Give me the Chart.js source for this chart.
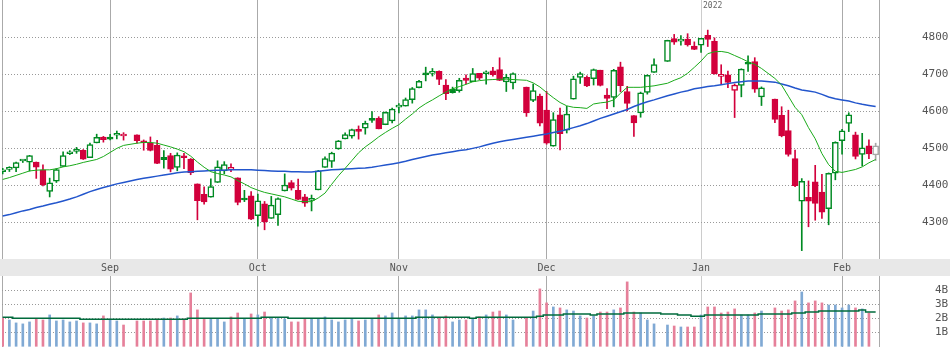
<!DOCTYPE html>
<html>
<head>
<meta charset="utf-8">
<title>S&amp;P 500 daily</title>
<script src="https://cdn.jsdelivr.net/npm/chart.js@4/dist/chart.umd.min.js"></script>
<style>
  html, body { margin: 0; padding: 0; background: #fff; }
  #wrap { position: relative; width: 950px; height: 347px; overflow: hidden; }
  #priceChart { position: absolute; left: 0; top: 0; }
  #volChart { position: absolute; left: 0; top: 276px; }
</style>
</head>
<body>
<div id="wrap">
  <canvas id="priceChart" width="950" height="276"></canvas>
  <canvas id="volChart" width="950" height="71"></canvas>
</div>
<script>
// * one slot per weekday, Aug 10 2021 .. Feb 8 2022 (null = market holiday)
const opens = [
  4435.79, 4442.18, 4446.08, 4464.84, 4461.65, 4462.12, 4440.94, 4382.44, 4410.56, 4450.29,
  4484.40, 4490.45, 4493.75, 4474.10, 4513.76, 4529.75, 4528.80, 4534.48, 4532.42, null,
  4535.38, 4518.09, 4513.02, 4506.92, 4474.81, 4479.33, 4447.49, 4477.09, 4469.74, 4402.95,
  4374.45, 4367.43, 4406.75, 4438.04, 4442.12, 4419.54, 4362.41, 4370.67, 4317.16, 4348.84,
  4309.87, 4319.57, 4383.73, 4406.51, 4385.44, 4368.31, 4358.01, 4386.75, 4447.69, 4463.72,
  4497.34, 4524.42, 4532.24, 4546.12, 4553.69, 4578.69, 4580.22, 4562.84, 4572.87, 4610.62,
  4613.34, 4630.65, 4662.93, 4699.26, 4701.48, 4707.25, 4670.26, 4659.39, 4655.24, 4689.30,
  4679.42, 4701.50, 4700.72, 4708.44, 4712.00, 4678.48, 4675.78, null, 4664.63, 4628.75,
  4640.25, 4602.82, 4504.73, 4589.49, 4548.37, 4631.97, 4690.86, 4691.00, 4687.64, 4710.30,
  4642.99, 4636.46, 4719.13, 4652.50, 4587.90, 4594.96, 4650.36, 4703.96, null, 4733.99,
  4795.49, 4788.64, 4794.23, 4775.21, 4778.14, 4804.51, 4787.99, 4693.39, 4697.66, 4655.34,
  4669.14, 4728.59, 4733.56, 4637.99, null, 4632.24, 4588.03, 4547.35, 4471.38, 4356.32,
  4366.64, 4408.43, 4380.58, 4336.19, 4431.79, 4519.57, 4566.39, 4535.41, 4482.79, 4505.75,
  4481
];
const highs = [
  4445.21, 4449.44, 4461.77, 4468.00, 4480.26, 4462.12, 4454.32, 4418.61, 4444.35, 4489.88,
  4492.81, 4501.71, 4495.90, 4513.33, 4537.36, 4531.39, 4537.11, 4545.85, 4541.45, null,
  4535.38, 4521.79, 4529.90, 4520.47, 4492.99, 4485.68, 4486.87, 4485.87, 4471.52, 4402.95,
  4394.87, 4416.75, 4465.40, 4463.12, 4457.30, 4419.54, 4385.57, 4382.55, 4375.19, 4355.51,
  4369.23, 4365.57, 4429.97, 4412.02, 4415.88, 4374.89, 4372.87, 4439.73, 4475.82, 4488.75,
  4520.40, 4540.87, 4551.44, 4559.67, 4572.62, 4598.53, 4584.57, 4597.55, 4608.08, 4620.34,
  4635.15, 4663.46, 4683.00, 4718.50, 4714.92, 4708.53, 4684.85, 4664.55, 4688.47, 4697.42,
  4714.95, 4701.50, 4708.80, 4717.75, 4743.83, 4699.39, 4702.87, null, 4664.63, 4672.95,
  4646.02, 4652.94, 4595.46, 4608.03, 4612.60, 4694.04, 4705.06, 4695.26, 4713.57, 4710.30,
  4660.47, 4712.60, 4731.99, 4666.70, 4587.90, 4651.14, 4697.67, 4740.74, null, 4791.49,
  4807.02, 4804.06, 4808.93, 4786.83, 4796.64, 4818.62, 4797.70, 4725.01, 4707.95, 4673.02,
  4714.13, 4748.83, 4744.13, 4665.13, null, 4632.24, 4611.55, 4602.11, 4494.52, 4417.35,
  4411.01, 4453.23, 4428.74, 4432.72, 4516.89, 4550.49, 4595.31, 4542.88, 4539.66, 4521.86,
  4513
];
const lows = [
  4430.03, 4436.42, 4435.96, 4460.82, 4437.66, 4417.83, 4397.59, 4367.73, 4406.80, 4450.29,
  4482.28, 4485.66, 4468.99, 4474.10, 4513.76, 4515.80, 4522.02, 4524.66, 4521.30, null,
  4513.00, 4493.95, 4492.07, 4457.66, 4445.70, 4435.46, 4438.37, 4443.80, 4427.76, 4305.91,
  4347.96, 4367.43, 4406.75, 4430.27, 4436.19, 4346.33, 4355.08, 4306.24, 4288.52, 4278.94,
  4309.87, 4290.49, 4383.73, 4386.22, 4360.59, 4342.09, 4329.92, 4386.75, 4447.69, 4447.47,
  4496.41, 4524.40, 4526.89, 4524.00, 4537.36, 4569.17, 4551.66, 4562.84, 4567.59, 4595.06,
  4613.34, 4621.19, 4662.59, 4681.32, 4694.39, 4670.87, 4630.86, 4648.31, 4650.77, 4672.86,
  4679.42, 4684.41, 4672.78, 4694.22, 4682.17, 4652.66, 4659.89, null, 4585.43, 4625.26,
  4560.00, 4510.27, 4504.73, 4495.12, 4540.51, 4631.97, 4674.52, 4665.98, 4670.24, 4667.60,
  4606.52, 4611.22, 4651.89, 4600.22, 4531.10, 4583.16, 4645.53, 4703.96, null, 4733.99,
  4780.04, 4778.08, 4775.33, 4765.75, 4758.17, 4774.27, 4699.44, 4671.26, 4662.74, 4582.24,
  4638.27, 4706.71, 4650.29, 4614.75, null, 4568.70, 4530.20, 4477.95, 4395.34, 4222.62,
  4287.11, 4304.80, 4309.50, 4292.46, 4414.02, 4483.53, 4544.32, 4470.39, 4451.50, 4471.47,
  4466
];
const closes = [
  4436.75, 4447.70, 4460.83, 4468.00, 4479.71, 4448.08, 4400.27, 4405.80, 4441.67, 4479.53,
  4486.23, 4496.19, 4470.00, 4509.37, 4528.79, 4522.68, 4524.09, 4536.95, 4535.43, null,
  4520.03, 4514.07, 4493.28, 4458.58, 4468.73, 4443.05, 4480.70, 4473.75, 4432.99, 4357.73,
  4354.19, 4395.64, 4448.98, 4455.48, 4443.11, 4352.63, 4359.46, 4307.54, 4357.04, 4300.46,
  4345.72, 4363.55, 4399.76, 4391.34, 4361.19, 4350.65, 4363.80, 4438.26, 4471.37, 4486.46,
  4519.63, 4536.19, 4549.78, 4544.90, 4566.48, 4574.79, 4551.68, 4596.42, 4605.38, 4613.67,
  4630.65, 4660.57, 4680.06, 4697.53, 4701.70, 4685.25, 4646.71, 4649.27, 4682.85, 4682.80,
  4700.90, 4688.67, 4704.54, 4697.96, 4682.94, 4690.70, 4701.46, null, 4594.62, 4655.27,
  4567.00, 4513.04, 4577.10, 4538.43, 4591.67, 4686.75, 4701.21, 4667.45, 4712.02, 4668.97,
  4634.09, 4709.85, 4668.67, 4620.64, 4568.02, 4649.23, 4696.56, 4725.79, null, 4791.19,
  4786.35, 4793.06, 4778.73, 4766.18, 4796.56, 4793.54, 4700.58, 4696.05, 4677.03, 4670.29,
  4713.07, 4726.35, 4659.03, 4662.85, null, 4577.11, 4532.76, 4482.73, 4397.94, 4410.13,
  4356.45, 4349.93, 4326.51, 4431.85, 4515.55, 4546.54, 4589.38, 4477.44, 4500.53, 4483.87,
  4506
];
// volume in billions (last day still trading, no bar)
const volumes = [
  2.00, 1.88, 1.67, 1.60, 1.74, 1.95, 1.88, 2.24, 1.81, 1.88,
  1.74, 1.81, 1.67, 1.67, 1.60, 2.17, 1.95, 1.81, 1.52, null,
  1.81, 1.81, 1.81, 1.95, 2.02, 2.02, 2.17, 1.95, 3.81, 2.60,
  1.95, 1.95, 1.95, 1.74, 2.10, 2.38, 1.95, 2.31, 2.24, 2.45,
  2.02, 2.02, 1.95, 1.74, 1.74, 1.95, 1.95, 1.95, 2.10, 1.88,
  1.74, 1.88, 1.95, 1.81, 1.88, 1.95, 2.24, 2.17, 2.38, 1.95,
  2.17, 2.17, 2.60, 2.60, 2.24, 2.02, 2.17, 1.74, 1.88, 1.88,
  2.00, 2.10, 2.24, 2.45, 2.52, 2.24, 1.88, null, 2.02, 2.52,
  4.10, 3.10, 2.81, 2.74, 2.60, 2.52, 2.17, 2.02, 2.17, 2.45,
  2.45, 2.60, 2.74, 4.60, 2.45, 2.38, 1.88, 1.60, null, 1.52,
  1.45, 1.38, 1.38, 1.38, 2.24, 2.81, 2.81, 2.38, 2.45, 2.67,
  2.24, 2.24, 2.38, 2.52, null, 2.74, 2.52, 2.60, 3.24, 3.88,
  3.10, 3.24, 3.10, 2.95, 2.95, 2.74, 2.95, 2.74, 2.67, 2.38,
  null
];
// ? moving averages
const ma25 = [
  4415, 4420, 4426, 4432, 4438, 4440, 4441, 4441, 4444, 4449,
  4452, 4456, 4461, 4465, 4469, 4477, 4488, 4499, 4507, null,
  4513, 4515, 4515, 4513, 4508, 4503, 4497, 4490, 4478, 4462,
  4448, 4436, 4431, 4427, 4422, 4412, 4403, 4393, 4386, 4380,
  4376, 4372, 4368, 4362, 4356, 4355, 4355, 4365, 4378, 4402,
  4425, 4445, 4466, 4487, 4503, 4516, 4530, 4542, 4553, 4563,
  4578, 4592, 4608, 4620, 4630, 4641, 4651, 4660, 4666, 4672,
  4679, 4682, 4684, 4685, 4686, 4686, 4685, null, 4683, 4676,
  4665, 4650, 4636, 4623, 4614, 4610, 4609, 4607, 4619, 4622,
  4624, 4630, 4648, 4664, 4664, 4664, 4666, 4668, null, 4675,
  4683, 4690, 4702, 4718, 4735, 4755, 4760, 4761, 4758, 4750,
  4742, 4733, 4726, 4715, null, 4688, 4670, 4640, 4610, 4590,
  4555, 4525, 4485, 4455, 4437, 4434, 4438, 4442, 4449, 4460,
  4469
];
const ma75 = [
  4316, 4320, 4325, 4330, 4334, 4339, 4343, 4348, 4352, 4357,
  4362, 4368, 4375, 4382, 4388, 4393, 4398, 4403, 4407, null,
  4415, 4418, 4421, 4424, 4427, 4430, 4433, 4435, 4436, 4437,
  4438, 4439, 4440, 4440, 4441, 4441, 4441, 4441, 4440, 4439,
  4438, 4437, 4437, 4436, 4436, 4435, 4435, 4437, 4439, 4441,
  4442, 4443, 4444, 4445, 4446, 4448, 4451, 4454, 4457, 4460,
  4464, 4469, 4473, 4477, 4481, 4484, 4487, 4490, 4493, 4495,
  4499, 4503, 4508, 4513, 4517, 4520, 4523, null, 4529, 4532,
  4535, 4538, 4542, 4545, 4550, 4555, 4560, 4566, 4573, 4580,
  4586, 4592, 4598, 4604, 4612, 4619, 4625, 4630, null, 4641,
  4646, 4651, 4655, 4660, 4663, 4666, 4668, 4671, 4674, 4677,
  4679, 4681, 4681, 4681, null, 4678, 4673, 4668, 4662, 4657,
  4654, 4651, 4645, 4638, 4633, 4630, 4627, 4622, 4618, 4615,
  4612
];
const volMa = [
  2.07, 2.07, 2.00, 2.00, 2.00, 2.00, 2.00, 2.00, 2.00, 2.00,
  2.00, 2.00, 1.93, 1.93, 1.93, 1.93, 1.93, 1.93, 1.93, null,
  1.93, 1.93, 1.93, 1.93, 1.93, 1.93, 1.93, 1.93, 2.00, 2.00,
  2.00, 2.00, 2.00, 2.00, 2.00, 2.00, 2.00, 2.00, 2.00, 2.07,
  2.07, 2.07, 2.07, 2.00, 2.00, 2.00, 2.00, 2.00, 2.00, 2.00,
  2.00, 2.00, 2.00, 2.00, 2.00, 2.00, 2.00, 2.00, 2.00, 2.00,
  2.00, 2.00, 2.07, 2.07, 2.07, 2.07, 2.07, 2.07, 2.07, 2.07,
  2.00, 2.07, 2.07, 2.07, 2.07, 2.07, 2.07, null, 2.07, 2.07,
  2.14, 2.24, 2.24, 2.24, 2.31, 2.31, 2.31, 2.31, 2.24, 2.31,
  2.31, 2.31, 2.31, 2.38, 2.38, 2.38, 2.38, 2.38, null, 2.31,
  2.31, 2.24, 2.24, 2.14, 2.14, 2.24, 2.24, 2.24, 2.24, 2.24,
  2.24, 2.24, 2.24, 2.31, null, 2.31, 2.31, 2.31, 2.38, 2.38,
  2.45, 2.45, 2.52, 2.52, 2.52, 2.52, 2.52, 2.52, 2.60, 2.45,
  2.45
];
const monthIdx = [16, 38, 59, 81, 104, 125];
const monthText = ["Sep", "Oct", "Nov", "Dec", "Jan", "Feb"];
const yearIdx = 104;
const yearText = "2022";
const priceTicks = [4300, 4400, 4500, 4600, 4700, 4800];
const volTicks = [1, 2, 3, 4];
const liveIdx = 130;

const upColor = "#008a22";
const downColor = "#d2003c";
const liveColor = "#a8a8a8";
const volUp = "#80a9d4";
const volDown = "#e6809a";
const monoFont = "'DejaVu Sans Mono', monospace";

// * build candles
let wickData = [];
let wickColor = [];
let bodyData = [];
let bodyFill = [];
let bodyLine = [];
let volData = [];
let volColor = [];
let prevClose = null;

closes.forEach((c, i) => {
  if (c === null) return;
  const o = opens[i];
  let col = prevClose === null || c >= prevClose ? upColor : downColor;
  if (i === liveIdx) col = liveColor;
  wickData.push({ x: i, y: [lows[i], highs[i]] });
  wickColor.push(col);
  bodyData.push({ x: i, y: [Math.min(o, c), Math.max(o, c)] });
  bodyLine.push(col);
  bodyFill.push(c > o ? "#ffffff" : col);
  if (volumes[i] !== null) {
    volData.push({ x: i, y: volumes[i] });
    volColor.push(prevClose !== null && c >= prevClose ? volUp : volDown);
  }
  prevClose = c;
});

const toPoints = (arr) =>
  arr.map((v, i) => (v === null ? null : { x: i, y: v })).filter((p) => p);

const xMin = -0.1;
const xMax = 130.5;
const xTicks = [xMin, ...monthIdx, xMax];

const xAxis = (showLabels) => ({
  type: "linear",
  min: xMin,
  max: xMax,
  offset: false,
  grid: {
    offset: false,
    drawTicks: false,
    lineWidth: 1,
    color: (ctx) => (ctx.tick && ctx.tick.value === yearIdx ? "#cccccc" : "#aaaaaa"),
  },
  border: { display: false },
  afterBuildTicks: (s) => {
    s.ticks = xTicks.map((v) => ({ value: v }));
  },
  afterFit: (s) => {
    s.height = showLabels ? 17 : 0;
    s.paddingLeft = 0;
    s.paddingRight = 0;
  },
  ticks: {
    display: showLabels,
    autoSkip: false,
    maxRotation: 0,
    padding: 3,
    color: "#555",
    font: { family: monoFont, size: 10 },
    callback: (v) => {
      const k = monthIdx.indexOf(v);
      return k < 0 ? "" : monthText[k];
    },
  },
});

const yAxis = (min, max, ticks, pad, fmt) => ({
  position: "right",
  min: min,
  max: max,
  grid: { color: "#999999", lineWidth: 1, drawTicks: false },
  border: { display: false, dash: [1, 2] },
  afterBuildTicks: (s) => {
    s.ticks = ticks.map((v) => ({ value: v }));
  },
  afterFit: (s) => {
    s.width = 71;
    s.paddingTop = 0;
    s.paddingBottom = 0;
  },
  ticks: {
    padding: pad,
    color: "#555",
    font: { family: monoFont, size: 11 },
    callback: fmt,
  },
});

// band under price panel + year tag
const bandPlugin = {
  id: "band",
  beforeDraw(chart) {
    const { ctx, chartArea, width, height } = chart;
    ctx.save();
    ctx.fillStyle = "#e8e8e8";
    ctx.fillRect(0, chartArea.bottom, width, height - chartArea.bottom);
    ctx.restore();
  },
  afterDraw(chart) {
    const { ctx } = chart;
    const x = chart.scales.x.getPixelForValue(yearIdx);
    ctx.save();
    ctx.fillStyle = "#666";
    ctx.font = "8px " + monoFont;
    ctx.textBaseline = "top";
    ctx.fillText(yearText, x + 2, 2);
    ctx.restore();
  },
};

const priceCanvas = document.getElementById("priceChart").getContext("2d");
const priceChart = new Chart(priceCanvas, {
  type: "bar",
  data: {
    datasets: [
      {
        type: "line",
        data: toPoints(ma25),
        borderColor: "#1aaa1a",
        borderWidth: 1,
        pointRadius: 0,
        order: 0,
      },
      {
        type: "line",
        data: toPoints(ma75),
        borderColor: "#2255cc",
        borderWidth: 1.5,
        pointRadius: 0,
        order: 0,
      },
      {
        data: bodyData,
        backgroundColor: bodyFill,
        borderColor: bodyLine,
        borderWidth: 1.5,
        borderSkipped: false,
        barThickness: 6,
        minBarLength: 2,
        grouped: false,
        order: 1,
      },
      {
        data: wickData,
        backgroundColor: wickColor,
        barThickness: 1,
        minBarLength: 1,
        grouped: false,
        order: 2,
      },
    ],
  },
  options: {
    responsive: false,
    animation: false,
    layout: { padding: { left: 2, right: 0, top: 0, bottom: 0 } },
    plugins: { legend: { display: false }, tooltip: { enabled: false } },
    scales: {
      x: xAxis(true),
      y: yAxis(4200, 4900, priceTicks, 43, (v) => String(v)),
    },
  },
  plugins: [bandPlugin],
});

const volCanvas = document.getElementById("volChart").getContext("2d");
const volChart = new Chart(volCanvas, {
  type: "bar",
  data: {
    datasets: [
      {
        type: "line",
        data: toPoints(volMa),
        borderColor: "#006b3c",
        borderWidth: 1.5,
        pointRadius: 0,
        stepped: "middle",
        order: 0,
      },
      {
        data: volData,
        backgroundColor: volColor,
        barThickness: 2,
        grouped: false,
        order: 1,
      },
    ],
  },
  options: {
    responsive: false,
    animation: false,
    layout: { padding: { left: 2, right: 0, top: 0, bottom: 0 } },
    plugins: { legend: { display: false }, tooltip: { enabled: false } },
    scales: {
      x: xAxis(false),
      y: yAxis(-0.05, 5.02, volTicks, 56, (v) => v + "B"),
    },
  },
});
</script>
</body>
</html>
